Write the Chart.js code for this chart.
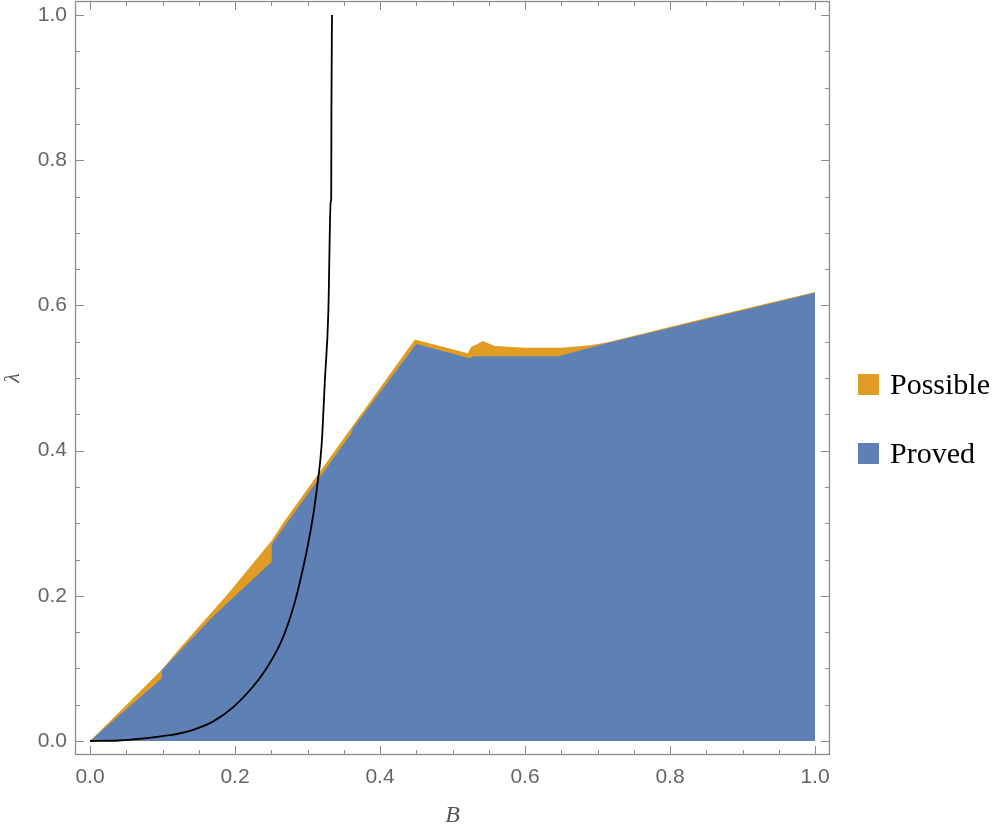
<!DOCTYPE html>
<html>
<head>
<meta charset="utf-8">
<script src="https://cdn.jsdelivr.net/npm/chart.js@4.4.0/dist/chart.umd.min.js"></script>
<style>
  html, body { margin: 0; padding: 0; background: #fff; }
</style>
</head>
<body>
<canvas id="grafico" width="998" height="830"></canvas>
<script>
// Region "Possible" (borde superior)
const possibleB = [0, 0.099, 0.1218, 0.193, 0.2506, 0.269, 0.361, 0.448, 0.521, 0.526, 0.531, 0.5416, 0.5586, 0.60, 0.65, 0.69, 0.7126, 0.85, 1.0];
const possibleL = [0, 0.098, 0.1253, 0.206, 0.276, 0.304, 0.432, 0.553, 0.534, 0.543, 0.545, 0.551, 0.544, 0.5415, 0.5415, 0.545, 0.549, 0.5825, 0.6185];

// Region "Proved" (borde superior)
const provedB = [0, 0.099, 0.099, 0.17, 0.2506, 0.2506, 0.361, 0.361, 0.45, 0.525, 0.528, 0.646, 0.7126, 0.85, 1.0];
const provedL = [0, 0.0864, 0.0978, 0.172, 0.247, 0.271, 0.4245, 0.4285, 0.547, 0.527, 0.530, 0.530, 0.5477, 0.581, 0.6175];

// curva negra
const curvaB = [0, 0.04, 0.078, 0.11, 0.138, 0.17, 0.198, 0.225, 0.244, 0.262, 0.2735, 0.283, 0.2897, 0.299, 0.308, 0.3126, 0.3195, 0.324, 0.3287, 0.332, 0.3327, 0.333, 0.3338];
const curvaL = [0, 0.0007, 0.004, 0.008, 0.014, 0.027, 0.047, 0.075, 0.101, 0.133, 0.162, 0.193, 0.220, 0.262, 0.312, 0.345, 0.408, 0.497, 0.589, 0.743, 0.747, 0.87, 1.0];

const tickLabels = [0, 0.2, 0.4, 0.6, 0.8, 1.0];
const minorTicks = [0.05, 0.1, 0.15, 0.25, 0.3, 0.35, 0.45, 0.5, 0.55, 0.65, 0.7, 0.75, 0.85, 0.9, 0.95];

const toPoints = (xs, ys) => xs.map((x, i) => ({ x: x, y: ys[i] }));

const colorFrame = '#8c8c8c';

// marco con ticks hacia adentro + leyenda
const marcoPlugin = {
  id: 'marco',
  afterDraw(chart) {
    const ctx = chart.ctx;
    const a = chart.chartArea;
    const sx = chart.scales.x;
    const sy = chart.scales.y;
    ctx.save();
    ctx.strokeStyle = colorFrame;
    ctx.lineWidth = 1.3;
    ctx.strokeRect(a.left + 0.5, a.top + 0.5, a.right - a.left - 1, a.bottom - a.top - 1);

    const tick = (v, len) => {
      const px = Math.round(sx.getPixelForValue(v)) + 0.5;
      const py = Math.round(sy.getPixelForValue(v)) + 0.5;
      ctx.beginPath();
      ctx.moveTo(px, a.bottom); ctx.lineTo(px, a.bottom - len);
      ctx.moveTo(px, a.top); ctx.lineTo(px, a.top + len);
      ctx.moveTo(a.left, py); ctx.lineTo(a.left + len, py);
      ctx.moveTo(a.right, py); ctx.lineTo(a.right - len, py);
      ctx.stroke();
    };
    ctx.lineWidth = 1;
    tickLabels.forEach(v => tick(v, 9));
    minorTicks.forEach(v => tick(v, 5));

    // leyenda
    const items = [chart.data.datasets[2], chart.data.datasets[1]];
    ctx.font = '30px "Liberation Serif"';
    ctx.textBaseline = 'alphabetic';
    ctx.textAlign = 'left';
    items.forEach((ds, i) => {
      const y0 = 374 + i * 69;
      ctx.fillStyle = ds.backgroundColor;
      ctx.fillRect(858, y0, 21, 21);
      ctx.fillStyle = '#000';
      ctx.fillText(ds.label, 890, y0 + 20);
    });
    ctx.restore();
  }
};

const ctx = document.getElementById('grafico').getContext('2d');
new Chart(ctx, {
  type: 'line',
  data: {
    datasets: [
      {
        label: 'curva',
        data: toPoints(curvaB, curvaL),
        borderColor: '#000',
        borderWidth: 1.8,
        pointRadius: 0,
        fill: false,
        cubicInterpolationMode: 'monotone'
      },
      {
        label: 'Proved',
        data: toPoints(provedB, provedL),
        backgroundColor: '#5E81B5',
        borderWidth: 0,
        pointRadius: 0,
        fill: 'origin',
        tension: 0
      },
      {
        label: 'Possible',
        data: toPoints(possibleB, possibleL),
        backgroundColor: '#E19C24',
        borderWidth: 0,
        pointRadius: 0,
        fill: 'origin',
        tension: 0
      }
    ]
  },
  options: {
    responsive: false,
    animation: false,
    events: [],
    layout: {
      padding: { top: 1, right: 168, bottom: 0, left: 0 }
    },
    plugins: {
      legend: { display: false },
      tooltip: { enabled: false }
    },
    scales: {
      x: {
        type: 'linear',
        min: -15 / 725,
        max: 1 + 15 / 725,
        grid: { display: false, drawTicks: false },
        border: { display: false },
        afterBuildTicks: scale => {
          scale.ticks = tickLabels.map(v => ({ value: v }));
        },
        afterFit: scale => {
          scale.height = 75;
          scale.paddingLeft = 0;
          scale.paddingRight = 0;
        },
        ticks: {
          maxRotation: 0,
          autoSkip: false,
          padding: 10,
          color: '#666',
          font: { family: 'Liberation Sans', size: 21 },
          callback: v => v.toFixed(1)
        },
        title: {
          display: true,
          text: 'B',
          color: '#555',
          padding: { top: 0, bottom: 0 },
          font: { family: 'Liberation Serif', size: 24, style: 'italic' }
        }
      },
      y: {
        type: 'linear',
        min: -14 / 726,
        max: 1 + 14 / 726,
        grid: { display: false, drawTicks: false },
        border: { display: false },
        afterBuildTicks: scale => {
          scale.ticks = tickLabels.map(v => ({ value: v }));
        },
        afterFit: scale => {
          scale.width = 75;
          scale.paddingTop = 0;
          scale.paddingBottom = 0;
        },
        ticks: {
          autoSkip: false,
          padding: 8,
          color: '#666',
          font: { family: 'Liberation Sans', size: 21 },
          callback: v => v.toFixed(1)
        },
        title: {
          display: true,
          text: 'λ',
          color: '#555',
          padding: { top: 0, bottom: 0 },
          font: { family: 'Liberation Serif', size: 22, style: 'italic' }
        }
      }
    }
  },
  plugins: [marcoPlugin]
});
</script>
</body>
</html>
